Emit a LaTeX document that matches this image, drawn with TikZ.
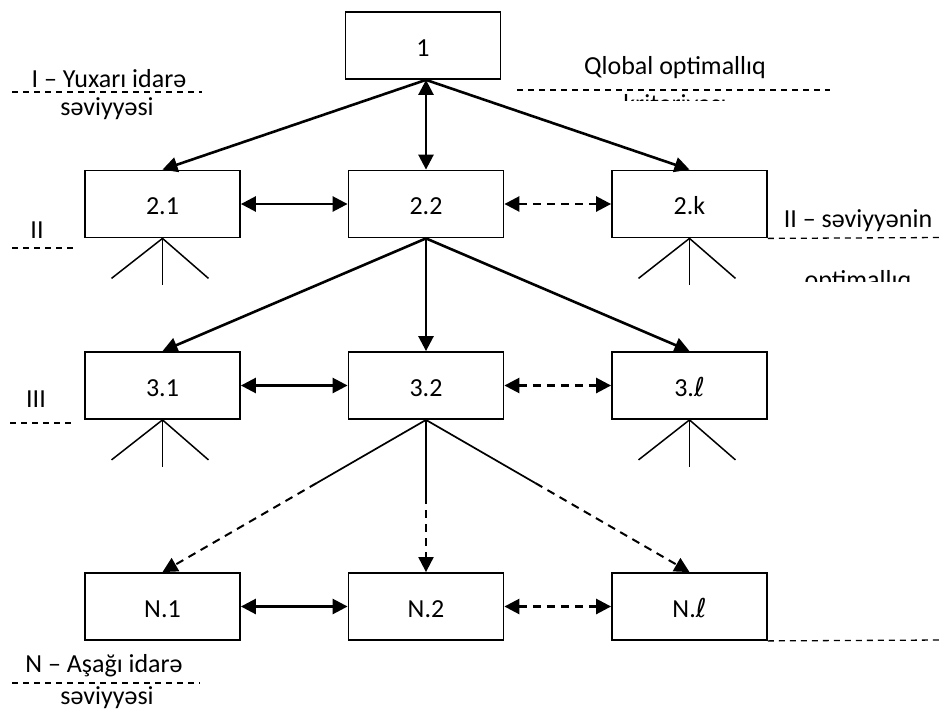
\documentclass[tikz,border=0pt]{standalone}
\usepackage{fontspec}
\setmainfont{Carlito}
\newfontfamily\ellfont{DejaVu Sans}
\usetikzlibrary{arrows.meta,calc}
\newcommand{\scriptl}{{\ellfont ℓ}}

\begin{document}
\begin{tikzpicture}[x=1pt,y=-1pt,
  every node/.style={font=\fontsize{26}{30}\selectfont},
  box/.style={draw,line width=1.8pt,minimum width=155pt,minimum height=67pt,
    inner sep=0pt,text height=21pt,text depth=0pt},
  tip/.style={-{Triangle[length=15pt,width=15pt]}},
  both/.style={{Triangle[length=15pt,width=15pt]}-{Triangle[length=15pt,width=15pt]}},
  link/.style={line width=2.6pt},
  dashlink/.style={line width=2.6pt,dash pattern=on 8pt off 6pt},
  thinlink/.style={line width=1.7pt},
  thindash/.style={line width=2pt,dash pattern=on 8pt off 6pt},
  twig/.style={line width=1.5pt},
  leader/.style={line width=1.3pt,dash pattern=on 6pt off 5pt},
  lbl/.style={anchor=base,inner sep=0pt}
]
\useasboundingbox (0,0) rectangle (943,715);

% ---- boxes of the hierarchy ----
\node[box] (b1)  at (423,45.5)   {1};
\node[box] (b21) at (162.5,204)  {2.1};
\node[box] (b22) at (426,204)    {2.2};
\node[box] (b2k) at (689.5,204)  {2.k};
\node[box] (b31) at (162.5,385.5) {3.1};
\node[box] (b32) at (426,385.5)  {3.2};
\node[box] (b3l) at (689.5,385.5) {3.\scriptl};
\node[box] (bN1) at (162.5,606.5) {N.1};
\node[box] (bN2) at (426,606.5)  {N.2};
\node[box] (bNl) at (689.5,606.5) {N.\scriptl};

\coordinate (apex1) at (b22.north |- b1.south);

% ---- level I -> level II ----
\draw[link,tip]  (apex1) -- (b21.north);
\draw[link,tip]  (apex1) -- (b2k.north);
\draw[link,both] (apex1) -- (b22.north);
\draw[link,both] (b21.east) -- (b22.west);
\draw[dashlink,both] (b22.east) -- (b2k.west);

% ---- level II -> level III ----
\draw[link,tip] (b22.south) -- (b31.north);
\draw[link,tip] (b22.south) -- (b32.north);
\draw[link,tip] (b22.south) -- (b3l.north);
\draw[link,both] (b31.east) -- (b32.west);
\draw[dashlink,both] (b32.east) -- (b3l.west);

% ---- level III -> level N (solid, then dashed) ----
\coordinate (m1) at ($(b32.south)!0.415!(bN1.north)$);
\coordinate (m2) at ($(b32.south)!0.5!(bN2.north)$);
\coordinate (m3) at ($(b32.south)!0.415!(bNl.north)$);
\draw[thinlink] (b32.south) -- (m1);
\draw[thinlink] (b32.south) -- (m2);
\draw[thinlink] (b32.south) -- (m3);
\draw[thindash,tip] (m1) -- (bN1.north);
\draw[thindash,tip] (m2) -- (bN2.north);
\draw[thindash,tip] (m3) -- (bNl.north);
\draw[link,both] (bN1.east) -- (bN2.west);
\draw[dashlink,both] (bN2.east) -- (bNl.west);

% ---- branching stubs below boxes ----
\foreach \b in {b21,b2k,b31,b3l}{
  \draw[twig] ($(\b.south)+(-51,40)$) -- (\b.south) -- ($(\b.south)+(46,40)$);
  \draw[twig] (\b.south) -- ++(0,47);
}

% ---- level captions on the left ----
\node[lbl] (tI)   at (109,87)  {I – Yuxarı idarə};
\draw[leader] (12,92) -- (202,92);
\node[lbl] (tIs)  at (107,115) {səviyyəsi};
\node[lbl] (tII)  at (37,238)  {II};
\draw[leader] (12,248) -- (76,248);
\node[lbl] (tIII) at (36,407)  {III};
\draw[leader] (10,423) -- (75,423);
\node[lbl] (tN)   at (104,672) {N – Aşağı idarə};
\draw[leader] (12,683) -- (200,683);
\node[lbl] (tNs)  at (107,704) {səviyyəsi};

% ---- criteria captions on the right ----
\node[lbl] (tQ) at (675,74) {Qlobal optimallıq};
\draw[leader] (517,90) -- (830,90);
\begin{scope}
  \clip (600,92) rectangle (760,100);
  \node[lbl] (tK) at (675,112.5) {kriteriyası};
\end{scope}
\node[lbl] (tS) at (858,227) {II – səviyyənin};
\draw[leader] (b2k.south east) -- (943,237.5);
\begin{scope}
  \clip (790,260) rectangle (935,281);
  \node[lbl] (tO) at (858,288) {optimallıq};
\end{scope}
\draw[leader] (bNl.south east) -- (943,640);
\end{tikzpicture}
\end{document}
